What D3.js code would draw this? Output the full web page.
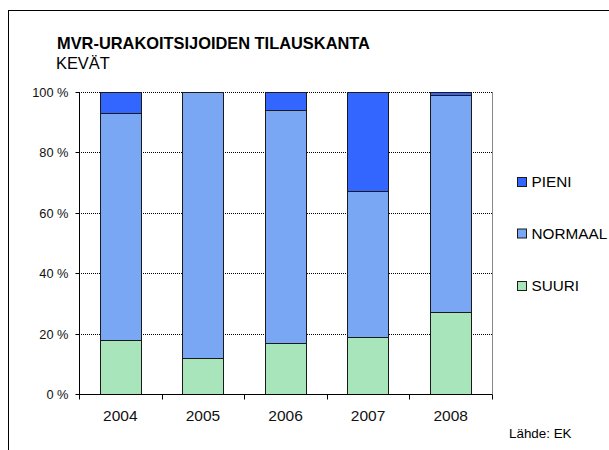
<!DOCTYPE html>
<html>
<head>
<meta charset="utf-8">
<script src="https://cdn.jsdelivr.net/npm/d3@7"></script>
<style>
  html, body { margin: 0; padding: 0; background: #fff; }
  svg { display: block; font-family: "Liberation Sans", Arial, sans-serif; }
</style>
</head>
<body>
<svg id="chart" width="609" height="450"></svg>
<script>
const years = ["2004", "2005", "2006", "2007", "2008"];
const suuri = [18, 12, 17, 19, 27];
const normaal = [75, 88, 77, 48, 72];
const pieni = [7, 0, 6, 33, 1];
const seriesNames = ["SUURI", "NORMAAL", "PIENI"];
const seriesColors = ["#a9e5ba", "#79a7f3", "#3366ff"];
const yTicks = [0, 20, 40, 60, 80, 100];

(function () {
const svg = d3.select("#chart");
const FF = "Liberation Sans, Arial, sans-serif";

// outer frame (cut off at right/bottom)
svg.append("rect").attr("x", 8.5).attr("y", 10.5).attr("width", 700).attr("height", 500)
  .attr("fill", "none").attr("stroke", "#000").attr("stroke-width", 1);

const pl = 79, pr = 492, pt = 91.5, pb = 394;

const x = d3.scaleBand().domain(years).range([pl, pr]).paddingInner(0.5).paddingOuter(0.25);
const y = d3.scaleLinear().domain([0, 100]).range([pb, pt]);

// gridlines
svg.append("g").selectAll("line").data(yTicks.filter(d => d > 0)).join("line")
  .attr("x1", pl).attr("x2", pr)
  .attr("y1", d => Math.round(y(d)) + 0.5).attr("y2", d => Math.round(y(d)) + 0.5)
  .attr("stroke", "#000").attr("stroke-width", 1).attr("stroke-dasharray", "1,1");

// right border of plot area
svg.append("line").attr("x1", pr + 0.5).attr("x2", pr + 0.5).attr("y1", Math.round(pt)).attr("y2", pb)
  .attr("stroke", "#888").attr("stroke-width", 1);

// stacked data
const rows = years.map((yr, i) => ({ year: yr, SUURI: suuri[i], NORMAAL: normaal[i], PIENI: pieni[i] }));
const stack = d3.stack().keys(seriesNames)(rows);

svg.append("g").selectAll("g").data(stack).join("g")
  .attr("fill", (d, i) => seriesColors[i])
  .selectAll("rect").data(d => d.filter(p => p[1] - p[0] > 0)).join("rect")
  .attr("x", d => Math.round(x(d.data.year)) + 0.5)
  .attr("width", Math.round(x.bandwidth()))
  .attr("y", d => Math.round(y(d[1])) + 0.5)
  .attr("height", d => Math.round(y(d[0])) - Math.round(y(d[1])))
  .attr("stroke", "#1a1a1a").attr("stroke-width", 1);

// y axis
const yAxis = d3.axisLeft(y).tickValues(yTicks).tickFormat(d => d + " %").tickSize(4).tickPadding(7);
const gy = svg.append("g").attr("transform", `translate(${pl + 0.5},0)`).call(yAxis);
gy.select(".domain").attr("d", `M0,${Math.round(pt)}V${pb + 0.5}`).attr("stroke", "#000");
gy.selectAll(".tick line").attr("stroke", "#000");
gy.selectAll(".tick").attr("transform", d => `translate(0,${Math.round(y(d)) + 0.5})`);
gy.selectAll("text").attr("font-size", 12.8).attr("fill", "#111").attr("font-family", FF);

// x axis
const xAxis = d3.axisBottom(x).tickSize(0).tickPadding(15);
const gx = svg.append("g").attr("transform", `translate(0,${pb + 0.5})`).call(xAxis);
gx.select(".domain").attr("d", `M${pl},0H${pr + 0.5}`).attr("stroke", "#000");
gx.selectAll("text").attr("font-size", 15.5).attr("fill", "#111").attr("font-family", FF);
// category boundary ticks
const bounds = d3.range(years.length + 1).map(i => pl + i * (pr - pl) / years.length);
gx.append("g").selectAll("line").data(bounds).join("line")
  .attr("x1", d => Math.round(d) + 0.5).attr("x2", d => Math.round(d) + 0.5)
  .attr("y1", 0).attr("y2", 5).attr("stroke", "#000");

// title
svg.append("text").attr("x", 57).attr("y", 49.3).attr("font-size", 16.4).attr("font-weight", "bold")
  .attr("fill", "#000").text("MVR-URAKOITSIJOIDEN TILAUSKANTA");
svg.append("text").attr("x", 56).attr("y", 68.5).attr("font-size", 16.4)
  .attr("fill", "#000").text("KEVÄT");

// legend
const legendItems = [
  { name: "PIENI", color: seriesColors[2], y: 182 },
  { name: "NORMAAL", color: seriesColors[1], y: 233.5 },
  { name: "SUURI", color: seriesColors[0], y: 286 }
];
const lg = svg.append("g").selectAll("g").data(legendItems).join("g")
  .attr("transform", d => `translate(517,${d.y})`);
lg.append("rect").attr("x", 0.5).attr("y", -4.5).attr("width", 9).attr("height", 9)
  .attr("fill", d => d.color).attr("stroke", "#1a1a1a");
lg.append("text").attr("x", 14.5).attr("y", 5.2).attr("font-size", 15.3).attr("fill", "#000").text(d => d.name);

// source
svg.append("text").attr("x", 509).attr("y", 437.5).attr("font-size", 13.4).attr("fill", "#000").text("Lähde: EK");
})();
</script>
</body>
</html>
